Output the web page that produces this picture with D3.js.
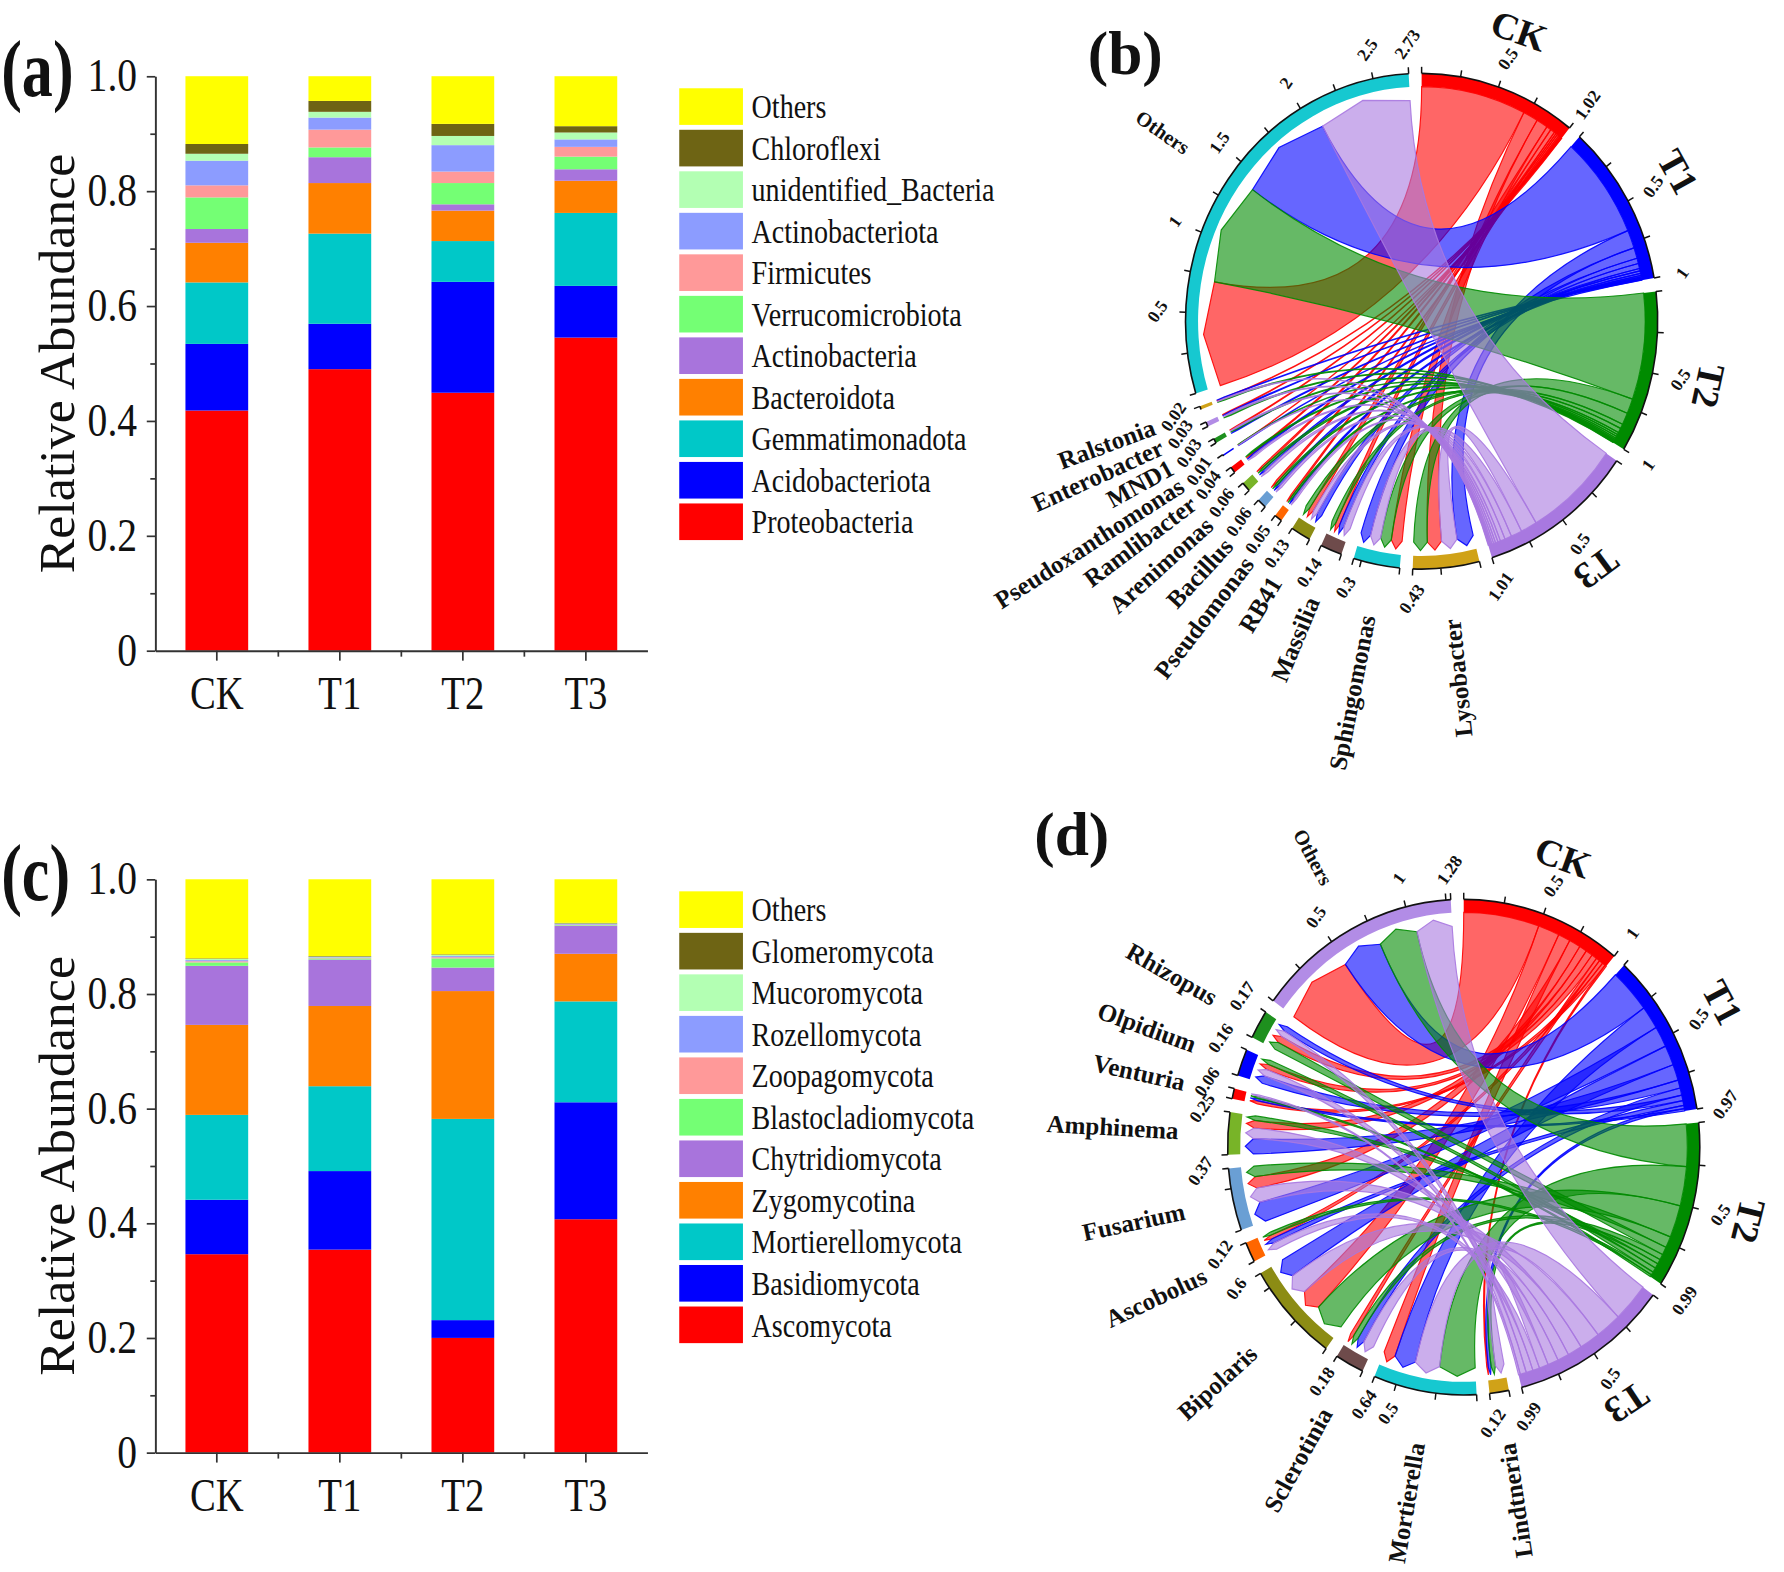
<!DOCTYPE html>
<html>
<head>
<meta charset="utf-8">
<title>Microbial community composition</title>
<script src="https://d3js.org/d3.v7.min.js"></script>
<style>
  body { margin: 0; background: #fff; }
  svg { display: block; background: #fff; }
  text { font-family: "Liberation Serif", "Times New Roman", serif; fill: #111; }
</style>
</head>
<body>
<div id="chart"></div>
<script>
// ---------------- data ----------------
const samples = ["CK", "T1", "T2", "T3"];

// (a) bacterial phyla, listed from the bottom of the stack upward
const bacteriaPhyla = ["Proteobacteria", "Acidobacteriota", "Gemmatimonadota", "Bacteroidota",
  "Actinobacteria", "Verrucomicrobiota", "Firmicutes", "Actinobacteriota",
  "unidentified_Bacteria", "Chloroflexi", "Others"];
const bacteriaCK = [0.418, 0.116, 0.107, 0.069, 0.024, 0.055, 0.021, 0.043, 0.012, 0.017, 0.118];
const bacteriaT1 = [0.490, 0.079, 0.157, 0.088, 0.045, 0.017, 0.031, 0.021, 0.010, 0.019, 0.043];
const bacteriaT2 = [0.449, 0.193, 0.071, 0.053, 0.011, 0.037, 0.020, 0.046, 0.016, 0.021, 0.083];
const bacteriaT3 = [0.545, 0.090, 0.127, 0.056, 0.020, 0.022, 0.017, 0.013, 0.012, 0.011, 0.087];

// (c) fungal phyla
const fungiPhyla = ["Ascomycota", "Basidiomycota", "Mortierellomycota", "Zygomycotina",
  "Chytridiomycota", "Blastocladiomycota", "Zoopagomycota", "Rozellomycota",
  "Mucoromycota", "Glomeromycota", "Others"];
const fungiCK = [0.346, 0.095, 0.148, 0.157, 0.103, 0.006, 0.002, 0.002, 0.002, 0.001, 0.138];
const fungiT1 = [0.354, 0.137, 0.148, 0.140, 0.081, 0.002, 0.001, 0.001, 0.001, 0.001, 0.134];
const fungiT2 = [0.200, 0.031, 0.351, 0.223, 0.041, 0.016, 0.002, 0.002, 0.002, 0.001, 0.131];
const fungiT3 = [0.407, 0.204, 0.176, 0.083, 0.049, 0.001, 0.001, 0.001, 0.001, 0.001, 0.076];

// (b) bacterial genera, clockwise after the samples
const bacteriaGenera = ["Lysobacter", "Sphingomonas", "Massilia", "RB41", "Pseudomonas", "Bacillus",
  "Arenimonas", "Ramlibacter", "Pseudoxanthomonas", "MND1", "Enterobacter", "Ralstonia", "Others"];
const bacGenusCK = [0.102, 0.078, 0.030, 0.032, 0.011, 0.013, 0.012, 0.009, 0.002, 0.006, 0.005, 0.004, 0.716];
const bacGenusT1 = [0.118, 0.070, 0.033, 0.035, 0.013, 0.016, 0.016, 0.010, 0.003, 0.008, 0.007, 0.004, 0.667];
const bacGenusT2 = [0.098, 0.077, 0.030, 0.030, 0.012, 0.014, 0.014, 0.009, 0.002, 0.008, 0.009, 0.006, 0.691];
const bacGenusT3 = [0.112, 0.075, 0.047, 0.033, 0.014, 0.017, 0.018, 0.012, 0.003, 0.008, 0.009, 0.006, 0.656];

// (d) fungal genera
const fungiGenera = ["Lindtneria", "Mortierella", "Sclerotinia", "Bipolaris", "Ascobolus", "Fusarium",
  "Amphinema", "Venturia", "Olpidium", "Rhizopus", "Others"];
const funGenusCK = [0.010, 0.080, 0.025, 0.140, 0.025, 0.075, 0.050, 0.020, 0.035, 0.045, 0.495];
const funGenusT1 = [0.020, 0.145, 0.045, 0.125, 0.030, 0.130, 0.100, 0.015, 0.050, 0.035, 0.275];
const funGenusT2 = [0.030, 0.245, 0.035, 0.202, 0.020, 0.070, 0.030, 0.013, 0.030, 0.050, 0.265];
const funGenusT3 = [0.060, 0.170, 0.075, 0.133, 0.045, 0.095, 0.070, 0.012, 0.045, 0.040, 0.245];

// colours
const phylumColors = ["#ff0000", "#0000ff", "#00c8c8", "#ff8000", "#a874dc", "#74ff74",
  "#ff9999", "#8c9cff", "#b3ffb3", "#6e6414", "#ffff00"];
const sampleColors = ["#ff0000", "#0000ff", "#008b00", "#a878e0"];
const bacGenusColors = ["#d0a218", "#16c8d0", "#6e4b4b", "#8c8c14", "#ff6600", "#6a9fd4",
  "#78b428", "#ff0000", "#0000ff", "#1e901e", "#b28ce6", "#d0a218", "#16c8d0"];
const funGenusColors = ["#d0a218", "#16c8d0", "#6e4b4b", "#8c8c14", "#ff6600", "#6a9fd4",
  "#78b428", "#ff0000", "#0000ff", "#1e901e", "#b28ce6"];

// ---------------- drawing ----------------
const W = 1568, H = 1382;
const svg = d3.select("#chart").append("svg")
  .attr("width", 1784).attr("height", 1572)
  .attr("viewBox", [0, 0, W, H])
  .attr("preserveAspectRatio", "none");

// the bar panels use a narrow serif, squeeze glyphs a bit
function condense(sel, f) {
  sel.each(function() {
    const w = this.getComputedTextLength();
    d3.select(this).attr("textLength", w * f).attr("lengthAdjust", "spacingAndGlyphs");
  });
}

function drawBars(phyla, rows, yTop, yBot, tag, tagBase) {
  const g = svg.append("g");
  const x = d3.scaleBand().domain(samples).range([136.5, 569]).paddingInner(0.49).paddingOuter(0.245);
  const y = d3.scaleLinear().domain([0, 1]).range([yBot, yTop]);

  const table = samples.map((s, i) => {
    const o = {sample: s};
    phyla.forEach((p, j) => o[p] = rows[i][j]);
    return o;
  });
  const series = d3.stack().keys(phyla)(table);

  g.append("g").selectAll("g").data(series).join("g")
    .attr("fill", (d, i) => phylumColors[i])
    .selectAll("rect").data(d => d).join("rect")
    .attr("x", d => x(d.data.sample))
    .attr("width", x.bandwidth())
    .attr("y", d => y(d[1]))
    .attr("height", d => y(d[0]) - y(d[1]));

  // y axis
  const yAx = g.append("g").attr("transform", `translate(${x.range()[0]},0)`)
    .call(d3.axisLeft(y).tickValues([0, 0.2, 0.4, 0.6, 0.8, 1])
      .tickFormat(d => d === 0 ? "0" : d.toFixed(1))
      .tickSize(7.5).tickSizeOuter(0).tickPadding(8.5));
  yAx.selectAll("text").attr("font-size", 40).attr("font-family", "Liberation Serif").attr("fill", "#111");
  condense(yAx.selectAll("text"), 0.87);
  g.append("g").attr("transform", `translate(${x.range()[0]},0)`)
    .call(d3.axisLeft(y).tickValues([0.1, 0.3, 0.5, 0.7, 0.9]).tickSize(4.4).tickFormat(""))
    .call(a => a.select(".domain").remove());

  // x axis
  const xAx = g.append("g").attr("transform", `translate(0,${yBot})`)
    .call(d3.axisBottom(x).tickSize(8.8).tickSizeOuter(0));
  xAx.selectAll("text").attr("y", 51).attr("dy", null).attr("font-size", 41)
    .attr("font-family", "Liberation Serif").attr("fill", "#111");
  condense(xAx.selectAll("text"), 0.83);
  const bounds = samples.slice(1).map(s => x(s) - (x.step() - x.bandwidth()) / 2);
  g.append("g").selectAll("line").data(bounds).join("line")
    .attr("x1", d => d).attr("x2", d => d)
    .attr("y1", yBot).attr("y2", yBot + 5.3);

  g.selectAll(".domain").attr("stroke", "#333").attr("stroke-width", 1.7);
  g.selectAll(".tick line").attr("stroke", "#333").attr("stroke-width", 1.5);
  g.selectAll("g > line").attr("stroke", "#333").attr("stroke-width", 1.5);

  g.append("text")
    .attr("transform", `translate(50,${(yTop + yBot) / 2}) rotate(-90)`)
    .attr("text-anchor", "middle").attr("dy", "0.35em")
    .attr("font-size", 44)
    .attr("textLength", 369).attr("lengthAdjust", "spacingAndGlyphs")
    .text("Relative Abundance");

  // panel tag, squeezed with a transform so it clears the "1.0" label
  g.append("text")
    .attr("transform", `translate(1,${tagBase}) scale(0.78,1)`)
    .attr("font-size", 70).attr("font-weight", "bold").text(tag);

  // legend, top entry is the top of the stack
  const legendTop = yTop + 10.6;
  const items = phyla.map((p, i) => ({name: p, color: phylumColors[i]})).reverse();
  const lg = g.append("g");
  lg.selectAll("rect").data(items).join("rect")
    .attr("x", 597).attr("y", (d, i) => legendTop + i * 36.5)
    .attr("width", 56).attr("height", 32.2)
    .attr("fill", d => d.color);
  const lt = lg.selectAll("text").data(items).join("text")
    .attr("x", 660.6).attr("y", (d, i) => legendTop + i * 36.5 + 26.4)
    .attr("font-size", 29)
    .text(d => d.name);
  condense(lt, 0.85);
}

function drawChord(cx, cy, taxa, rows, colors, tag, tagX, tagBase) {
  const m = samples.length;
  const names = samples.concat(taxa);
  const n = names.length;
  const matrix = names.map(() => new Array(n).fill(0));
  rows.forEach((row, i) => row.forEach((v, j) => {
    matrix[i][m + j] = v;
    matrix[m + j][i] = v;
  }));

  const chords = d3.chord().padAngle(0.055).sortSubgroups(d3.descending)(matrix);
  const groupColor = i => i < m ? sampleColors[i] : colors[i - m];

  const R = 207.5, band = 11, ys = 1.05;
  const g = svg.append("g").attr("transform", `translate(${cx},${cy}) scale(1,${ys})`);

  const ribbon = d3.ribbonArrow()
    .sourceRadius(R - band)
    .targetRadius(R - band - 4.5)
    .headRadius(7);

  g.append("g").selectAll("path").data(chords).join("path")
    .attr("d", ribbon)
    .attr("fill", d => sampleColors[d.source.index])
    .attr("fill-opacity", 0.6)
    .attr("stroke", d => sampleColors[d.source.index])
    .attr("stroke-opacity", 0.9)
    .attr("stroke-width", 1);

  const arc = d3.arc().innerRadius(R - band).outerRadius(R);
  g.append("g").selectAll("path").data(chords.groups).join("path")
    .attr("d", arc)
    .attr("fill", d => groupColor(d.index));

  g.append("g").selectAll("path").data(chords.groups).join("path")
    .attr("d", d => {
      const p = d3.path();
      p.arc(0, 0, R, d.startAngle - Math.PI / 2, d.endAngle - Math.PI / 2);
      return p.toString();
    })
    .attr("fill", "none").attr("stroke", "#111").attr("stroke-width", 1.4);

  const tickAngles = chords.groups.flatMap(d => {
    const k = (d.endAngle - d.startAngle) / d.value;
    return d3.range(0, d.value - 0.02, 0.25).concat([d.value]).map(v => d.startAngle + v * k);
  });
  g.append("g").selectAll("line").data(tickAngles).join("line")
    .attr("transform", a => `rotate(${a * 180 / Math.PI - 90})`)
    .attr("x1", R).attr("x2", R + 5.5)
    .attr("stroke", "#111").attr("stroke-width", 1.3);

  // texts are placed without the vertical stretch
  const t = svg.append("g").attr("transform", `translate(${cx},${cy})`);
  const pos = (a, r) => [r * Math.sin(a), -r * Math.cos(a) * ys];
  const fmt = d3.format(".2~f");

  const tickLabels = chords.groups.flatMap(d => {
    const k = (d.endAngle - d.startAngle) / d.value;
    return d3.range(0.5, d.value - 0.12, 0.5).concat([d.value])
      .map(v => ({a: d.startAngle + v * k, text: fmt(v)}));
  });
  t.append("g").selectAll("text").data(tickLabels).join("text")
    .attr("transform", d => {
      const [x, y] = pos(d.a, R + 25);
      return `translate(${x},${y}) rotate(-55)`;
    })
    .attr("text-anchor", "middle").attr("dy", "0.35em")
    .attr("font-size", 15.5).attr("font-weight", "bold")
    .text(d => d.text);

  const mid = d => (d.startAngle + d.endAngle) / 2;
  t.append("g").selectAll("text").data(chords.groups.filter(d => d.index < m)).join("text")
    .attr("transform", d => {
      const [x, y] = pos(mid(d), 258);
      return `translate(${x},${y}) rotate(${mid(d) * 180 / Math.PI})`;
    })
    .attr("text-anchor", "middle").attr("dy", "0.35em")
    .attr("font-size", 33).attr("font-weight", "bold")
    .text(d => names[d.index]);

  t.append("g").selectAll("text").data(chords.groups.filter(d => d.index >= m)).join("text")
    .attr("transform", d => {
      const a = mid(d);
      const [x, y] = pos(a, 251);
      const rot = Math.atan2(Math.cos(a), -Math.sin(a)) * 180 / Math.PI;
      return `translate(${x},${y}) rotate(${rot})`;
    })
    .attr("text-anchor", "end").attr("dy", "0.35em")
    .attr("font-size", d => names[d.index] === "Others" ? 18 : 22)
    .attr("font-weight", "bold")
    .text(d => names[d.index]);

  svg.append("text").attr("x", tagX).attr("y", tagBase)
    .attr("font-size", 54).attr("font-weight", "bold").text(tag);
}

drawBars(bacteriaPhyla, [bacteriaCK, bacteriaT1, bacteriaT2, bacteriaT3], 67, 572, "(a)", 84.5);
drawBars(fungiPhyla, [fungiCK, fungiT1, fungiT2, fungiT3], 773, 1277, "(c)", 791);
drawChord(1249.5, 282.4, bacteriaGenera, [bacGenusCK, bacGenusT1, bacGenusT2, bacGenusT3],
  bacGenusColors, "(b)", 956, 65);
drawChord(1286.5, 1008.5, fungiGenera, [funGenusCK, funGenusT1, funGenusT2, funGenusT3],
  funGenusColors, "(d)", 909, 752);
</script>
</body>
</html>
